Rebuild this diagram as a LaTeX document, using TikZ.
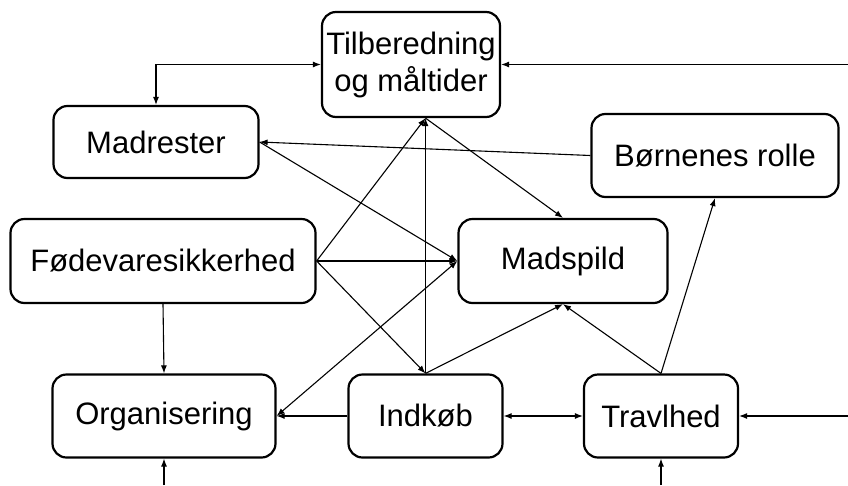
\documentclass[tikz,border=0pt]{standalone}
\usepackage{fontspec}
\setmainfont{Liberation Sans}
\usetikzlibrary{arrows.meta}

\begin{document}
\begin{tikzpicture}[>={Latex[length=8pt,width=6pt]},x=1pt,y=-1pt,
	boks/.style={draw,line width=2.2pt,rounded corners=14pt,align=center,inner sep=0pt,font=\fontsize{31}{37}\selectfont},
	pil/.style={line width=1.1pt}]
	\useasboundingbox (0,0) rectangle (848,485);
	% Kasser
	\node[boks,minimum width=178pt,minimum height=105pt] (tilb) at (411,64.5) {Tilberedning\\og måltider};
	\node[boks,minimum width=205pt,minimum height=72pt] (madrest) at (156,142) {Madrester};
	\node[boks,minimum width=247pt,minimum height=83pt] (born) at (715,155.5) {Børnenes rolle};
	\node[boks,minimum width=305pt,minimum height=84pt] (fode) at (163,261) {Fødevaresikkerhed};
	\node[boks,minimum width=209pt,minimum height=84pt] (spild) at (563,261) {Madspild};
	\node[boks,minimum width=223pt,minimum height=83pt] (org) at (164,416) {Organisering};
	\node[boks,minimum width=154pt,minimum height=83pt] (indkob) at (425.5,416) {Indkøb};
	\node[boks,minimum width=154pt,minimum height=83pt] (trav) at (661,416) {Travlhed};
	% Punkter
	\coordinate (tb) at (indkob.north |- tilb.south);
	\coordinate (ud1) at (848,64.5);
	\coordinate (ud2) at (848,416);
	\coordinate (ud3) at (org.south |- 0,485);
	\coordinate (ud4) at (trav.south |- 0,485);
	% Pile
	\draw[pil,<->] (tilb.west) -| (madrest.north);
	\draw[pil,->] (ud1) -- (tilb.east);
	\draw[pil,->] (born.west) -- (madrest.east);
	\draw[pil,->] (madrest.east) -- (spild.west);
	\draw[pil,->] (fode.east) -- (tb);
	\draw[pil,->] (fode.east) -- (spild.west);
	\draw[pil,->] (fode.east) -- (indkob.north);
	\draw[pil,->] (fode.south) -- (org.north);
	\draw[pil,->] (indkob.north) -- (tb);
	\draw[pil,->] (tb) -- (spild.north);
	\draw[pil,->] (indkob.north) -- (spild.south);
	\draw[pil,<->] (org.east) -- (spild.west);
	\draw[pil,->] (indkob.west) -- (org.east);
	\draw[pil,<->] (indkob.east) -- (trav.west);
	\draw[pil,->] (trav.north) -- (spild.south);
	\draw[pil,->] (trav.north) -- (born.south);
	\draw[pil,->] (ud2) -- (trav.east);
	\draw[pil,->] (ud3) -- (org.south);
	\draw[pil,->] (ud4) -- (trav.south);
\end{tikzpicture}
\end{document}
